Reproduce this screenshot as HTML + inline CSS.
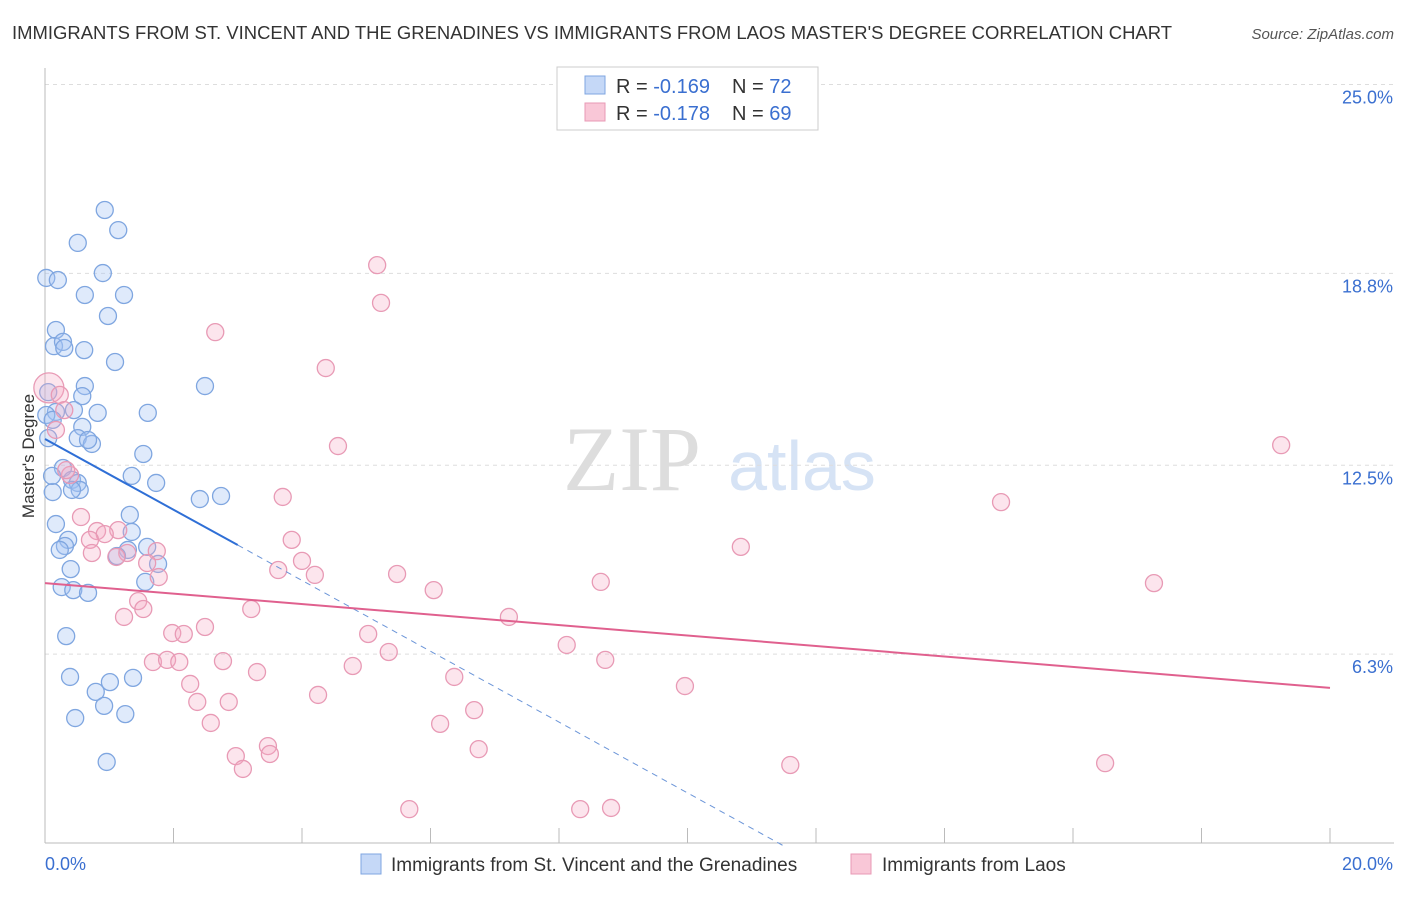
<!DOCTYPE html>
<html><head><meta charset="utf-8"><style>
body{margin:0;background:#fff;font-family:"Liberation Sans",sans-serif}
</style></head><body>
<svg id="chart" width="1406" height="892" xmlns="http://www.w3.org/2000/svg" font-family="Liberation Sans, sans-serif">
<text x="12" y="39" font-size="18" fill="#333" textLength="1160" lengthAdjust="spacingAndGlyphs">IMMIGRANTS FROM ST. VINCENT AND THE GRENADINES VS IMMIGRANTS FROM LAOS MASTER'S DEGREE CORRELATION CHART</text>
<text x="1394" y="39" font-size="15" fill="#555" text-anchor="end" font-style="italic">Source: ZipAtlas.com</text>
<g><text x="632" y="490" font-size="92" fill="#ddd" font-family="Liberation Serif, serif" text-anchor="middle">ZIP</text><text x="802" y="490" font-size="70" fill="#d6e3f5" text-anchor="middle">atlas</text></g>
<g id="grid"></g><g id="axes"></g><g id="marks"></g>
<text transform="translate(34,456) rotate(-90)" font-size="17" fill="#333" text-anchor="middle">Master's Degree</text>
<g>
<rect x="557" y="67" width="261" height="63" fill="#fff" stroke="#ccc"/>
<rect x="585" y="76" width="20" height="18" fill="#c5d8f7" stroke="#7fa6e0"/>
<rect x="585" y="103" width="20" height="18" fill="#f9c7d7" stroke="#e89ab5"/>
<text x="616" y="93" font-size="20" fill="#333">R = <tspan fill="#3a6fd0">-0.169</tspan></text>
<text x="732" y="93" font-size="20" fill="#333">N = <tspan fill="#3a6fd0">72</tspan></text>
<text x="616" y="120" font-size="20" fill="#333">R = <tspan fill="#3a6fd0">-0.178</tspan></text>
<text x="732" y="120" font-size="20" fill="#333">N = <tspan fill="#3a6fd0">69</tspan></text>
</g>
<g>
<rect x="361" y="854" width="20" height="20" fill="#c5d8f7" stroke="#7fa6e0"/>
<text x="391" y="871" font-size="19" fill="#333">Immigrants from St. Vincent and the Grenadines</text>
<rect x="851" y="854" width="20" height="20" fill="#f9c7d7" stroke="#e89ab5"/>
<text x="882" y="871" font-size="19" fill="#333">Immigrants from Laos</text>
</g>
</svg>
<script>
const yTicks=[25.0,18.8,12.5,6.3];
const yTickLabels=["25.0%","18.8%","12.5%","6.3%"];
const xTickLabels=["0.0%","20.0%"];
const blueX=[.93,1.14,.51,.02,.20,.90,.62,1.23,.98,.17,.14,.28,.30,.61,1.09,.62,2.49,.05,.58,.17,.45,.82,1.60,.02,.12,.58,.51,.73,.67,.05,1.53,.28,1.35,1.73,.42,.51,.54,.42,.12,2.41,2.74,1.32,.17,1.35,.36,.31,.23,1.59,1.29,1.12,1.76,.40,1.56,.26,.44,.67,.33,.39,1.01,1.37,.79,.92,.47,1.25,.96,.11];
const blueY=[20.88,20.22,19.80,18.65,18.58,18.81,18.09,18.09,17.40,16.94,16.41,16.55,16.35,16.28,15.89,15.10,15.10,14.90,14.77,14.25,14.31,14.22,14.22,14.15,13.99,13.76,13.39,13.20,13.33,13.39,12.87,12.41,12.15,11.92,12.02,11.92,11.69,11.69,11.62,11.39,11.49,10.87,10.57,10.31,10.05,9.85,9.72,9.82,9.72,9.52,9.26,9.09,8.67,8.50,8.40,8.31,6.89,5.55,5.38,5.52,5.06,4.60,4.20,4.33,2.76,12.15];
const pinkX=[.06,.23,.30,.17,.39,.33,.56,.81,1.14,.93,.70,1.28,.73,1.11,1.74,1.59,1.77,1.45,1.53,1.23,2.65,5.17,5.23,4.37,4.56,3.70,3.84,4.00,3.63,4.20,5.48,6.05,7.22,3.21,2.49,1.98,2.16,1.68,1.90,2.09,2.77,5.03,5.35,4.79,3.30,2.26,2.37,2.86,4.25,2.58,6.37,6.68,6.15,6.75,3.47,2.97,3.08,3.50,5.67,8.12,8.72,8.65,10.83,9.96,11.60,8.33,8.81,14.88,19.24,17.26,16.50];
const pinkY=[15.04,14.81,14.31,13.66,12.18,12.34,10.80,10.34,10.37,10.24,10.05,9.62,9.62,9.49,9.68,9.29,8.83,8.04,7.78,7.52,16.87,19.07,17.83,15.69,13.13,11.46,10.05,9.36,9.06,8.90,8.93,8.40,7.52,7.78,7.19,6.99,6.96,6.04,6.11,6.04,6.07,6.96,6.37,5.91,5.71,5.32,4.73,4.73,4.96,4.04,5.55,4.46,4.01,3.18,3.28,2.95,2.53,3.02,1.21,6.60,6.11,8.67,9.82,5.25,2.66,1.21,1.25,11.29,13.16,8.63,2.72];
const blueTrend=[13.36,9.88,0];const blueTrendX=[0,3.0,11.5];
const pinkTrend=[8.63,5.19];const pinkTrendX=[0,20];
const NS="http://www.w3.org/2000/svg";
const sx=v=>45+v/20*1285, sy=v=>846-v/25*761.5;
function mk(t,a,p){const e=document.createElementNS(NS,t);for(const k in a)e.setAttribute(k,a[k]);document.getElementById(p).appendChild(e);return e;}
yTicks.forEach((t,i)=>{
 const l=mk('line',{x1:45,x2:1394,y1:sy(t),y2:sy(t),stroke:'#ddd','stroke-dasharray':'4,4'},'grid');
 
 
 const tx=mk('text',{x:1393,y:sy(t)+19,'font-size':18,fill:'#3a6fd0','text-anchor':'end'},'axes');
 tx.textContent=yTickLabels[i];
 
 
});
const ax=mk('line',{x1:45,x2:1394,y1:843,y2:843,stroke:'#bbb'},'axes');


const ay=mk('line',{x1:45,x2:45,y1:68,y2:843,stroke:'#bbb'},'axes');


for(let i=0;i<=10;i++){const t=mk('line',{x1:sx(i*2),x2:sx(i*2),y1:828,y2:843,stroke:'#bbb'},'axes');
 
 }
[[0,'start',45],[1,'end',1393]].forEach(([i,a,x])=>{const t=mk('text',{x:x,y:870,'font-size':18,fill:'#3a6fd0','text-anchor':a},'axes');t.textContent=xTickLabels[i];
 
 });
function pts(X,Y,fill,stroke,name){X.forEach((x,i)=>{const c=mk('circle',{cx:sx(x),cy:sy(Y[i]),r:(name==='pink-point'&&i===0)?15:8.5,fill:fill,stroke:stroke,'stroke-width':1.3},'marks');
 
 });}
pts(blueX,blueY,'rgba(164,194,244,0.35)','#7fa6e0','blue-point');
pts(pinkX,pinkY,'rgba(244,170,196,0.3)','#e89ab5','pink-point');
const b1=mk('line',{x1:sx(blueTrendX[0]),y1:sy(blueTrend[0]),x2:sx(blueTrendX[1]),y2:sy(blueTrend[1]),stroke:'#2f6fd6','stroke-width':2},'marks');


const b2=mk('line',{x1:sx(blueTrendX[1]),y1:sy(blueTrend[1]),x2:sx(blueTrendX[2]),y2:sy(blueTrend[2]),stroke:'#6b95d8','stroke-width':1,'stroke-dasharray':'6,5'},'marks');


const p1=mk('line',{x1:sx(pinkTrendX[0]),y1:sy(pinkTrend[0]),x2:sx(pinkTrendX[1]),y2:sy(pinkTrend[1]),stroke:'#e0608e','stroke-width':2},'marks');


</script>
</body></html>
